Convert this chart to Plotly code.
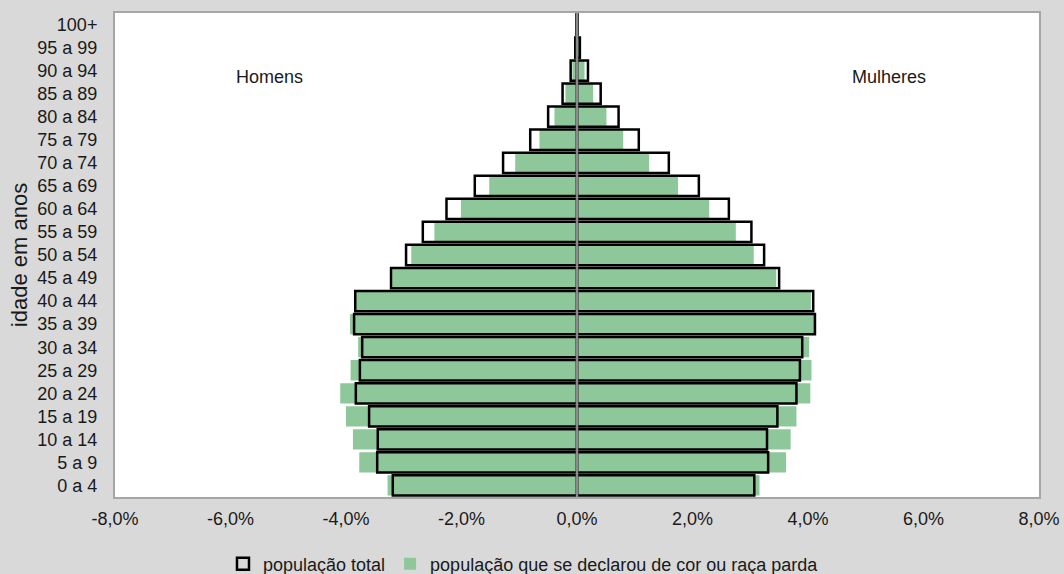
import plotly.graph_objects as go

ages = ["0 a 4", "5 a 9", "10 a 14", "15 a 19", "20 a 24", "25 a 29", "30 a 34",
        "35 a 39", "40 a 44", "45 a 49", "50 a 54", "55 a 59", "60 a 64", "65 a 69",
        "70 a 74", "75 a 79", "80 a 84", "85 a 89", "90 a 94", "95 a 99", "100+"]

# percentages (%)
homens_total = [3.19, 3.46, 3.45, 3.60, 3.83, 3.76, 3.72, 3.86, 3.84, 3.22, 2.96,
                2.67, 2.26, 1.77, 1.28, 0.81, 0.50, 0.25, 0.11, 0.03, 0.01]
homens_parda = [3.28, 3.77, 3.88, 4.00, 4.10, 3.92, 3.79, 3.93, 3.83, 3.20, 2.87,
                2.47, 2.01, 1.52, 1.07, 0.65, 0.39, 0.20, 0.08, 0.02, 0.005]
mulheres_total = [3.07, 3.31, 3.29, 3.47, 3.80, 3.86, 3.90, 4.12, 4.09, 3.50, 3.24,
                  3.02, 2.63, 2.11, 1.59, 1.07, 0.72, 0.41, 0.19, 0.05, 0.01]
mulheres_parda = [3.16, 3.62, 3.70, 3.80, 4.04, 4.06, 4.02, 4.14, 4.05, 3.45, 3.06,
                  2.75, 2.29, 1.75, 1.25, 0.80, 0.51, 0.28, 0.13, 0.02, 0.005]

tick_vals = [-8, -6, -4, -2, 0, 2, 4, 6, 8]
tick_text = ["-8,0%", "-6,0%", "-4,0%", "-2,0%", "0,0%", "2,0%", "4,0%", "6,0%", "8,0%"]

green = "#8ec79a"
font = "Liberation Sans, Arial, sans-serif"
txt = "#1a1a1a"
fs = 18
bw = 0.88

fig = go.Figure()
fig.add_trace(go.Bar(y=ages, x=[-v for v in homens_parda], orientation="h",
                     marker=dict(color=green, line=dict(width=0)), width=bw,
                     name="população que se declarou de cor ou raça parda",
                     legendgroup="parda", legendrank=2))
fig.add_trace(go.Bar(y=ages, x=mulheres_parda, orientation="h",
                     marker=dict(color=green, line=dict(width=0)), width=bw,
                     name="população que se declarou de cor ou raça parda",
                     legendgroup="parda", showlegend=False))
fig.add_trace(go.Bar(y=ages, x=[-v for v in homens_total], orientation="h",
                     marker=dict(color="rgba(0,0,0,0)", line=dict(color="black", width=2.5)),
                     width=bw, name="população total", legendgroup="total", legendrank=1))
fig.add_trace(go.Bar(y=ages, x=mulheres_total, orientation="h",
                     marker=dict(color="rgba(0,0,0,0)", line=dict(color="black", width=2.5)),
                     width=bw, name="população total", legendgroup="total", showlegend=False))

# zero reference line drawn above bars
fig.add_shape(type="line", xref="x", yref="paper", x0=0, x1=0, y0=0, y1=1,
              line=dict(color="#8a8a8a", width=2.5), layer="above")

fig.add_annotation(x=-5.32, y=17.72, text="Homens", showarrow=False,
                   font=dict(size=fs, color=txt, family=font))
fig.add_annotation(x=5.40, y=17.72, text="Mulheres", showarrow=False,
                   font=dict(size=fs, color=txt, family=font))

fig.update_layout(
    barmode="overlay",
    width=1064, height=574,
    autosize=False,
    margin=dict(l=115, r=25, t=13, b=77, autoexpand=False),
    paper_bgcolor="#d9d9d9",
    plot_bgcolor="white",
    font=dict(family=font, size=fs, color=txt),
    showlegend=True,
    legend=dict(orientation="h", xref="container", yref="container",
                x=0.492, xanchor="center", y=0.0174, yanchor="middle",
                bgcolor="rgba(0,0,0,0)", font=dict(size=fs), traceorder="normal",
                itemwidth=30, tracegroupgap=0),
    xaxis=dict(range=[-8, 8], tickvals=tick_vals, ticktext=tick_text,
               showgrid=False, zeroline=False, automargin=False,
               showline=True, mirror=True, linecolor="#a6a6a6", linewidth=2,
               ticks="", ticklabelstandoff=4, fixedrange=True),
    yaxis=dict(title=dict(text="idade em anos", standoff=4), showgrid=False,
               showline=True, mirror=True, linecolor="#a6a6a6", linewidth=2,
               ticks="", ticklabelstandoff=12, categoryorder="array", automargin=False,
               categoryarray=ages, range=[-0.5, 20.5], fixedrange=True),
)

fig.write_html("out.html", config={"displayModeBar": False},
               post_script="document.body.style.margin='0';")
